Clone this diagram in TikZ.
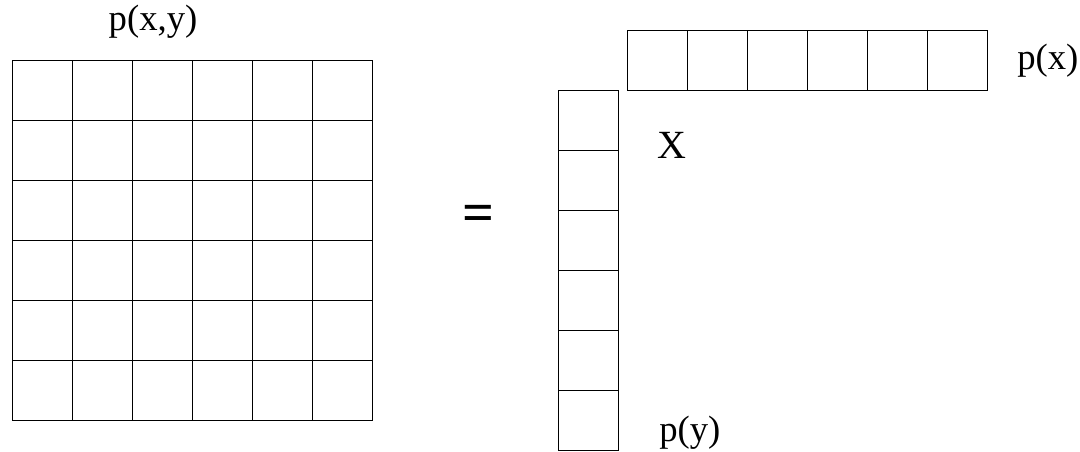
\documentclass[tikz,border=0pt]{standalone}
\usepackage{fontspec}
\setmainfont{Liberation Serif}
\begin{document}
\begin{tikzpicture}[x=0.75pt,y=-0.75pt,
  cell/.style={draw=black,line width=0.75pt,minimum width=45pt,minimum height=45pt,inner sep=0pt,outer sep=0pt},
  lbl/.style={anchor=base,inner sep=0pt,font=\fontsize{27.5}{27.5}\selectfont}]
\useasboundingbox (0,0) rectangle (1080,451);
% joint distribution grid
\foreach \i in {0,...,5}{
  \foreach \j in {0,...,5}{
    \node[cell] (g\i\j) at ({42.5+60*\i},{90+60*\j}) {};
  }
}
% row vector p(x)
\foreach \i in {0,...,5}{
  \node[cell] (r\i) at ({657.2+60.15*\i},60.3) {};
}
% column vector p(y)
\foreach \j in {0,...,5}{
  \node[cell] (c\j) at (588,{120+60*\j}) {};
}
\node[lbl] (pxy) at (153,30) {p(x,y)};
\node[lbl,anchor=base west] (px) at (1017,69) {p(x)};
\node[lbl,anchor=base west] (py) at (659,441) {p(y)};
\node[lbl,anchor=base west,font=\fontsize{30}{30}\selectfont] (times) at (657,158) {X};
\node[inner sep=0pt,font=\bfseries\fontsize{42}{42}\selectfont] (eq) at (478,218.5) {=};
\end{tikzpicture}
\end{document}
